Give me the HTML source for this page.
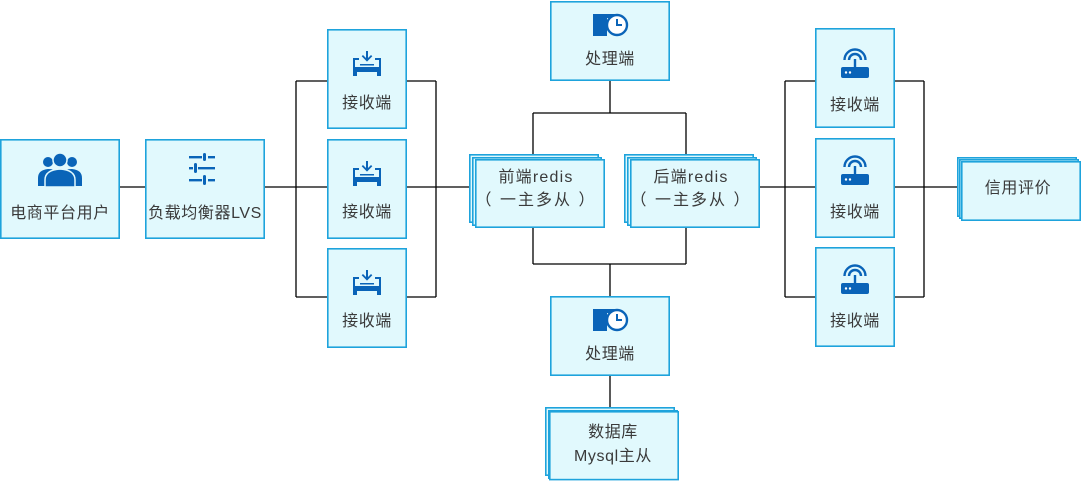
<!DOCTYPE html>
<html><head><meta charset="utf-8"><style>
html,body{margin:0;padding:0;background:#fff;}
svg text{font-family:"Liberation Sans","Noto Sans CJK SC",sans-serif;font-size:16px;fill:#3a3a3a;letter-spacing:0.6px;}
</style></head><body>
<svg width="1082" height="481" viewBox="0 0 1082 481" xmlns="http://www.w3.org/2000/svg">
<defs>
<style>.b{fill:#e1f9fd;stroke:#1ea3dc;stroke-width:1.6}.l{stroke:#000;stroke-width:1.3;fill:none}.i{fill:#0a64b8}</style>
<g id="inbox">
<path class="i" d="M-14,-6 h6 v2 h-4 v7 h24 v-7 h-4 v-2 h6 v18 h-4 v-4 h-20 v4 h-4z"/>
<path class="i" d="M-1,-13 h2 v7 l3,-3 1.3,1.3 -5.3,5.3 -5.3,-5.3 1.3,-1.3 3,3z M-7,0 h14 v1.5 h-14z"/>
</g>
<g id="router">
<rect class="i" x="-14" y="0" width="28" height="11" rx="2"/>
<circle cx="-9" cy="5.5" r="1.2" fill="#fff"/><circle cx="-5" cy="5.5" r="1.2" fill="#fff"/>
<rect class="i" x="-1.2" y="-8" width="2.4" height="8"/>
<path d="M-6,-7 a6,6 0 0 1 12,0" stroke="#0a64b8" stroke-width="2.4" fill="none"/>
<path d="M-10.5,-7 a10.5,10.5 0 0 1 21,0" stroke="#0a64b8" stroke-width="2.4" fill="none"/>
</g>
<g id="clock">
<rect class="i" x="-17" y="-11" width="14" height="22"/>
<rect class="i" x="-17" y="-11" width="22" height="4"/>
<circle cx="7" cy="0" r="10" fill="#fff" stroke="#0a64b8" stroke-width="2.4"/>
<path d="M7,-6 v6 h5" stroke="#0a64b8" stroke-width="2" fill="none"/>
</g>
</defs>

<path class="l" d="M119,187 H145 M264,187 H296 M296,81 V297 M296,81 H327 M296,187 H327 M296,297 H327 M406,81 H436 M406,187 H436 M406,297 H436 M436,81 V297 M436,187 H470"/>
<path class="l" d="M610,80 V113 M533,113 H686 M533,113 V155 M686,113 V155 M533,228 V264 M686,228 V264 M533,264 H686 M610,264 V296 M610,375 V408"/>
<path class="l" d="M758,187 H785 M785,81 V297 M785,81 H815 M785,187 H815 M785,297 H815 M894,81 H924 M894,187 H924 M894,297 H924 M924,81 V297 M924,187 H958"/>

<rect class="b" x="0.8" y="139.8" width="118.4" height="98.4"/>
<g class="i">
<circle cx="48" cy="162" r="5"/><path d="M38,186 v-8 q0,-8 10,-9 q6,0 8,2 v15z"/>
<circle cx="72" cy="162" r="5"/><path d="M82,186 v-8 q0,-8 -10,-9 q-6,0 -8,2 v15z"/>
<circle cx="60" cy="160" r="7" stroke="#e1f9fd" stroke-width="1.5"/><path d="M45,187 v-7 q0,-10 15,-11 q15,1 15,11 v7z" stroke="#e1f9fd" stroke-width="1.5"/>
</g>
<text x="60" y="218" text-anchor="middle">电商平台用户</text>

<rect class="b" x="145.8" y="139.8" width="118.4" height="98.4"/>
<g class="i">
<rect x="189" y="156" width="13" height="2.4"/><rect x="208" y="156" width="7" height="2.4"/><rect x="203" y="153" width="3" height="8" rx="1.5"/>
<rect x="189" y="167" width="4" height="2.4"/><rect x="198" y="167" width="17" height="2.4"/><rect x="194" y="163" width="3" height="10" rx="1.5"/>
<rect x="189" y="179" width="13" height="2.4"/><rect x="208" y="179" width="7" height="2.4"/><rect x="203" y="175" width="3" height="10" rx="1.5"/>
</g>
<text x="205" y="218" text-anchor="middle">负载均衡器LVS</text>

<rect class="b" x="327.8" y="29.8" width="78.4" height="98.4"/><use href="#inbox" x="367" y="64"/><text x="367" y="108" text-anchor="middle">接收端</text>
<rect class="b" x="327.8" y="139.8" width="78.4" height="98.4"/><use href="#inbox" x="367" y="174"/><text x="367" y="217" text-anchor="middle">接收端</text>
<rect class="b" x="327.8" y="248.8" width="78.4" height="98.4"/><use href="#inbox" x="367" y="283"/><text x="367" y="326" text-anchor="middle">接收端</text>

<rect class="b" x="550.8" y="1.8" width="118.4" height="78.4"/><use href="#clock" x="610" y="25"/><text x="610" y="64" text-anchor="middle">处理端</text>
<rect class="b" x="550.8" y="296.8" width="118.4" height="78.4"/><use href="#clock" x="610" y="320"/><text x="610" y="359" text-anchor="middle">处理端</text>

<rect class="b" x="469.8" y="154.8" width="128.4" height="67.4"/><rect class="b" x="472.8" y="157.8" width="128.4" height="67.4"/><rect class="b" x="475.8" y="159.8" width="128.4" height="67.4"/>
<text x="536" y="182" text-anchor="middle" style="letter-spacing:1.2px">前端redis</text><text x="536" y="205" text-anchor="middle" style="letter-spacing:2px">（ 一主多从 ）</text>
<rect class="b" x="624.8" y="154.8" width="128.4" height="67.4"/><rect class="b" x="627.8" y="157.8" width="128.4" height="67.4"/><rect class="b" x="630.8" y="159.8" width="128.4" height="67.4"/>
<text x="691" y="182" text-anchor="middle" style="letter-spacing:1.2px">后端redis</text><text x="691" y="205" text-anchor="middle" style="letter-spacing:2px">（ 一主多从 ）</text>

<rect class="b" x="545.8" y="407.8" width="128.4" height="67.4"/><rect class="b" x="548.8" y="410.8" width="128.4" height="67.4"/><rect class="b" x="549.8" y="411.8" width="128.4" height="67.8"/>
<text x="613" y="437" text-anchor="middle">数据库</text><text x="613" y="461" text-anchor="middle">Mysql主从</text>

<rect class="b" x="815.8" y="28.8" width="78.4" height="98.4"/><use href="#router" x="855" y="67"/><text x="855" y="110" text-anchor="middle">接收端</text>
<rect class="b" x="815.8" y="138.8" width="78.4" height="98.4"/><use href="#router" x="855" y="174"/><text x="855" y="217" text-anchor="middle">接收端</text>
<rect class="b" x="815.8" y="247.8" width="78.4" height="98.4"/><use href="#router" x="855" y="283"/><text x="855" y="326" text-anchor="middle">接收端</text>

<rect class="b" x="957.8" y="157.8" width="118.4" height="58.4"/><rect class="b" x="959.8" y="159.8" width="118.4" height="58.4"/><rect class="b" x="961.8" y="161.8" width="118.4" height="58.4"/>
<text x="1018" y="193" text-anchor="middle">信用评价</text>
</svg>
</body></html>
